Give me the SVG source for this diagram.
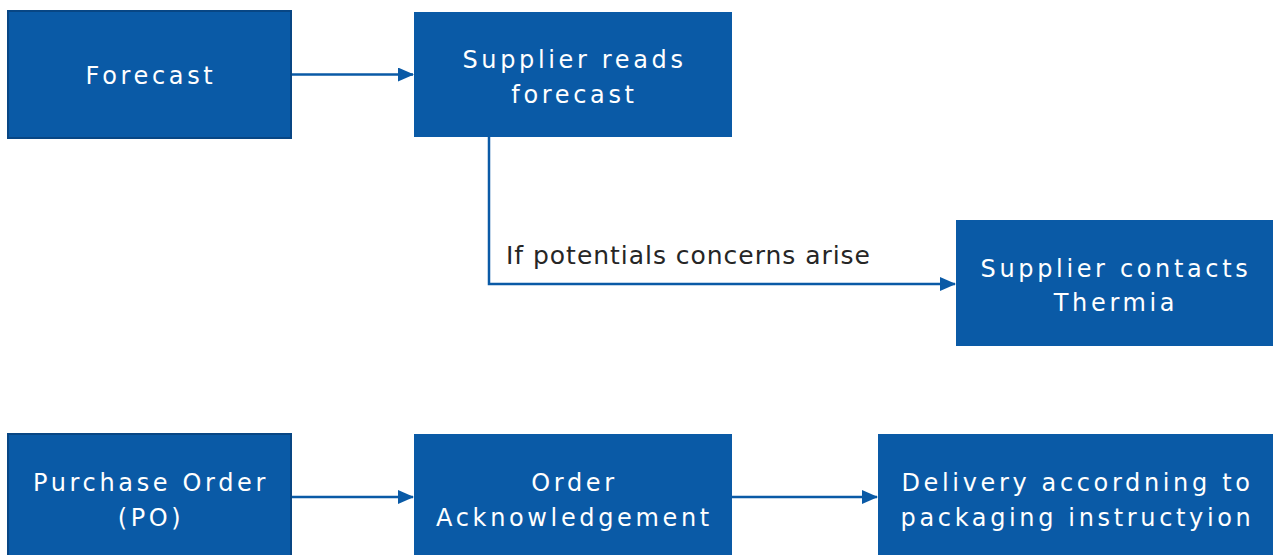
<svg xmlns="http://www.w3.org/2000/svg" width="1279" height="555" viewBox="0 0 1279 555">
<style>
.box{fill:#0a5aa6}
.bd{stroke:#084684;stroke-width:2}
.t{font-family:"DejaVu Sans",Verdana,sans-serif;font-size:24px;fill:#ffffff;text-anchor:middle;letter-spacing:3.65px}
.c{fill:none;stroke:#0a5aa6;stroke-width:2.5}
.lbl{font-family:"DejaVu Sans",Verdana,sans-serif;font-size:25px;fill:#262626}
</style>
<defs>
<marker id="ah" markerWidth="16" markerHeight="14" refX="15" refY="7" orient="auto" markerUnits="userSpaceOnUse">
<path d="M0,0 L16,7 L0,14 Z" fill="#0a5aa6"/>
</marker>
</defs>
<rect width="1279" height="555" fill="#ffffff"/>
<g id="connectors">
<path class="c" d="M291,74.5 H413" marker-end="url(#ah)"/>
<path class="c" d="M489,137 V284 H955" marker-end="url(#ah)"/>
<path class="c" d="M291,497 H413" marker-end="url(#ah)"/>
<path class="c" d="M732,497 H877" marker-end="url(#ah)"/>
<text class="lbl" x="506" y="264" textLength="364" lengthAdjust="spacing">If potentials concerns arise</text>
</g>
<g id="forecast">
<rect class="box bd" x="8" y="11" width="283" height="127"/>
<text class="t" x="151" y="84">Forecast</text>
</g>
<g id="supplier-reads">
<rect class="box" x="414" y="12" width="318" height="125"/>
<text class="t" x="574.5" y="68">Supplier reads</text>
<text class="t" x="574.5" y="103">forecast</text>
</g>
<g id="supplier-contacts">
<rect class="box" x="956" y="220" width="317" height="126"/>
<text class="t" x="1116" y="277">Supplier contacts</text>
<text class="t" x="1116" y="311">Thermia</text>
</g>
<g id="purchase-order">
<rect class="box bd" x="8" y="434" width="283" height="125"/>
<text class="t" x="151" y="491">Purchase Order</text>
<text class="t" x="151" y="526">(PO)</text>
</g>
<g id="order-ack">
<rect class="box" x="414" y="434" width="318" height="125"/>
<text class="t" x="574.5" y="491">Order</text>
<text class="t" x="574.5" y="526">Acknowledgement</text>
</g>
<g id="delivery">
<rect class="box" x="878" y="434" width="395" height="125"/>
<text class="t" x="1077.5" y="491">Delivery accordning to</text>
<text class="t" x="1077.5" y="526">packaging instructyion</text>
</g>
</svg>
